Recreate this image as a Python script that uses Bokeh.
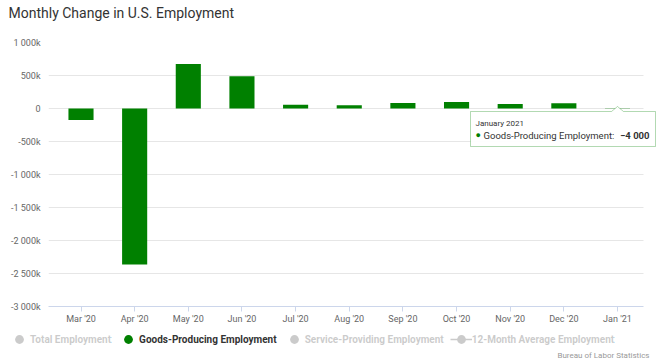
from bokeh.plotting import figure
from bokeh.layouts import column, row
from bokeh.models import (ColumnDataSource, Range1d, FixedTicker, CustomJSTickFormatter,
                          Legend, LegendItem, Label, PolyAnnotation, BoxAnnotation, Title)
from bokeh.embed import file_html
from bokeh.resources import INLINE

# ---------------- data ----------------
months = ["Mar '20", "Apr '20", "May '20", "Jun '20", "Jul '20", "Aug '20",
          "Sep '20", "Oct '20", "Nov '20", "Dec '20", "Jan '21"]
goods_producing = [-175000, -2363000, 675000, 490000, 55000, 50000,
                   85000, 100000, 70000, 80000, -4000]
y_ticks = [-3000000, -2500000, -2000000, -1500000, -1000000, -500000, 0, 500000, 1000000]
series_names = ["Total Employment", "Goods-Producing Employment",
                "Service-Providing Employment", "12-Month Average Employment"]
title_text = "Monthly Change in U.S. Employment"
credit_text = "Bureau of Labor Statistics"
tooltip_date = "January 2021"
tooltip_index = 10
tooltip_value = "\u22124 000"

# ---------------- layout ----------------
W = 657
TOP_H, BOT_H = 34, 34
LB, RB, TB, BB = 48, 0, 8, 18
FH = 266
MAIN_H = TB + FH + BB
FW = W - LB - RB
GRID_W = 595                # visible plot-area width
STEP = 53.65                # px per category
X0 = -32.5 / STEP
X1 = X0 + FW / STEP
Y0, Y1 = -3000000, 1000000
FONT = "Roboto"
GREEN = "#008000"


def blank(h, left=0):
    f = figure(width=W, height=h, output_backend="svg", toolbar_location=None,
               x_axis_location=None, y_axis_location=None,
               x_range=Range1d(0, 1), y_range=Range1d(0, 1),
               min_border_left=left, min_border_right=0, min_border_top=0,
               min_border_bottom=0)
    f.title.visible = False
    f.outline_line_color = None
    f.xgrid.visible = False
    f.ygrid.visible = False
    return f


# ---------------- title ----------------
ft = blank(TOP_H, left=LB)
ft.add_layout(Title(text=title_text, align="left", offset=8 - LB, standoff=5,
                    text_font=FONT, text_font_size="14px", text_font_style="normal",
                    text_color="#333333"), "above")

# ---------------- main chart ----------------
x = list(range(len(months)))
src = ColumnDataSource(dict(x=x, y=goods_producing, label=months))

p = figure(width=W, height=MAIN_H, output_backend="svg", toolbar_location=None,
           x_range=Range1d(X0, X1), y_range=Range1d(Y0, Y1),
           min_border_left=LB, min_border_right=RB, min_border_top=TB, min_border_bottom=BB)
p.title.visible = False
p.outline_line_color = None

p.vbar(x="x", top="y", bottom=0, width=0.468, source=src,
       fill_color=GREEN, line_color=None)

p.xaxis.ticker = FixedTicker(ticks=x)
p.xaxis.major_label_overrides = {i: m for i, m in enumerate(months)}
p.xaxis.bounds = (X0, X0 + GRID_W / STEP)
p.xaxis.axis_line_color = "#ccd6eb"
p.xaxis.major_tick_line_color = "#ccd6eb"
p.xaxis.major_tick_out = 5
p.xaxis.major_tick_in = 0
p.xaxis.minor_tick_line_color = None
p.xaxis.minor_tick_out = 0
p.xaxis.major_label_standoff = 2
p.xaxis.major_label_text_font = FONT
p.xaxis.major_label_text_font_size = "9px"
p.xaxis.major_label_text_color = "#666666"

p.yaxis.ticker = FixedTicker(ticks=y_ticks)
p.yaxis.formatter = CustomJSTickFormatter(code="""
const v = Math.round(tick / 1000);
if (v === 0) { return "0"; }
const s = Math.abs(v).toString().replace(/\\B(?=(\\d{3})+(?!\\d))/g, " ");
return (v < 0 ? "-" : "") + s + "k";
""")
p.yaxis.axis_line_color = None
p.yaxis.major_tick_line_color = None
p.yaxis.minor_tick_line_color = None
p.yaxis.major_tick_out = 0
p.yaxis.minor_tick_out = 0
p.yaxis.major_label_standoff = 8
p.yaxis.major_label_text_font = FONT
p.yaxis.major_label_text_font_size = "9px"
p.yaxis.major_label_text_color = "#666666"

p.xgrid.grid_line_color = None
p.ygrid.grid_line_color = "#e6e6e6"
p.ygrid.grid_line_width = 1

# keep the grid inside the visible plot area (space to the right holds the tooltip)
p.add_layout(BoxAnnotation(left=GRID_W, right=FW + 2, bottom=-2, top=FH + 2,
                           left_units="screen", right_units="screen",
                           bottom_units="screen", top_units="screen",
                           fill_color="white", fill_alpha=1, line_color=None,
                           level="glyph"))

# tooltip
px = (tooltip_index - X0) / (X1 - X0) * FW
py = (0 - Y0) / (Y1 - Y0) * FH
top = py - 4.5
bot = top - 35
left = px - 147
right = px + 38
p.add_layout(PolyAnnotation(xs=[left, px - 6, px, px + 6, right, right, left],
                            ys=[top, top, top + 5, top, top, bot, bot],
                            xs_units="screen", ys_units="screen",
                            fill_color="white", fill_alpha=0.95,
                            line_color=GREEN, line_width=1))
p.add_layout(Label(x=left + 5, y=top - 12, x_units="screen", y_units="screen",
                   text=tooltip_date, text_font=FONT, text_font_size="8px",
                   text_color="#333333", text_baseline="middle"))
p.add_layout(Label(x=left + 5, y=top - 23.5, x_units="screen", y_units="screen",
                   text="\u25cf", text_font=FONT, text_font_size="9px",
                   text_color=GREEN, text_baseline="middle"))
p.add_layout(Label(x=left + 13, y=top - 23.5, x_units="screen", y_units="screen",
                   text=series_names[1] + ":", text_font=FONT, text_font_size="9.5px",
                   text_color="#333333", text_baseline="middle"))
p.add_layout(Label(x=right - 6, y=top - 23.5, x_units="screen", y_units="screen",
                   text=tooltip_value, text_font=FONT, text_font_size="9.5px",
                   text_font_style="bold", text_align="right",
                   text_color="#333333", text_baseline="middle"))

# ---------------- legend & credits ----------------
# legend strip: renderers share the chart's source; its 0..1 ranges keep every
# value out of view, so only the legend symbols show.
fb = blank(BOT_H)
lsrc = ColumnDataSource(dict(x=x, y=goods_producing))
r_total = fb.scatter(x="x", y="y", source=lsrc, size=9, marker="circle",
                     fill_color="#333333", line_color=None, visible=False)
r_goods = fb.scatter(x="x", y="y", source=lsrc, size=9, marker="circle",
                     fill_color=GREEN, line_color=None)
r_serv = fb.scatter(x="x", y="y", source=lsrc, size=9, marker="circle",
                    fill_color="#333333", line_color=None, visible=False)
r_avg_l = fb.line(x="x", y="y", source=lsrc, line_color="#333333", line_width=1.5,
                  visible=False)
r_avg_p = fb.scatter(x="x", y="y", source=lsrc, size=6, marker="circle",
                     fill_color="#333333", line_color=None, visible=False)

legend = Legend(items=[LegendItem(label=series_names[0], renderers=[r_total]),
                       LegendItem(label=series_names[1], renderers=[r_goods]),
                       LegendItem(label=series_names[2], renderers=[r_serv]),
                       LegendItem(label=series_names[3], renderers=[r_avg_l, r_avg_p])],
                location=(8, -3), orientation="horizontal", click_policy="hide",
                label_text_font=FONT, label_text_font_size="10px",
                label_text_font_style="bold", label_text_color="#333333",
                glyph_width=22, glyph_height=22, label_standoff=0, spacing=6,
                label_height=14, padding=0, margin=0, border_line_color=None,
                background_fill_alpha=0,
                inactive_fill_color="white", inactive_fill_alpha=0.75)
fb.add_layout(legend)
fb.add_layout(Title(text=credit_text, align="right", offset=8, standoff=2,
                    text_font=FONT, text_font_size="8px", text_font_style="normal",
                    text_color="#999999"), "below")

layout = column(ft, p, row(fb), spacing=0)
open("out.html", "w").write(file_html(layout, INLINE))
